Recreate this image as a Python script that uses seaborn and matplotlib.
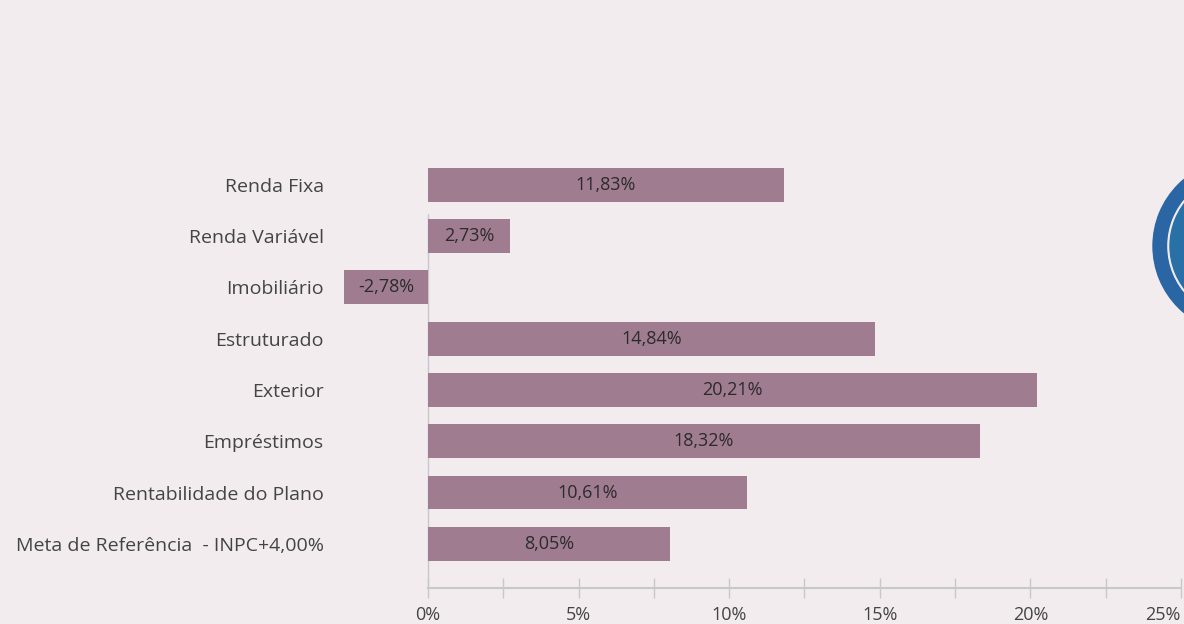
import numpy as np
import pandas as pd
import seaborn as sns
import matplotlib.pyplot as plt
from matplotlib.patches import Wedge

categories = ['Renda Fixa', 'Renda Variável', 'Imobiliário', 'Estruturado', 'Exterior',
              'Empréstimos', 'Rentabilidade do Plano', 'Meta de Referência  - INPC+4,00%']
values = [11.83, 2.73, -2.78, 14.84, 20.21, 18.32, 10.61, 8.05]
xticks = [0, 2.5, 5, 7.5, 10, 12.5, 15, 17.5, 20, 22.5, 25]

bg = '#f2ecef'
bar_color = '#a07c91'
grey = '#c8c8c8'

sns.set_theme(style='white')
plt.rcParams['font.family'] = ['Open Sans', 'DejaVu Sans']

df = pd.DataFrame({'cat': categories, 'val': values})

fig = plt.figure(figsize=(11.84, 6.24), dpi=100, facecolor=bg)
ax = fig.add_axes([0.2851, 0.0577, 0.7123, 0.6875])
ax.set_facecolor(bg)

sns.barplot(data=df, x='val', y='cat', color=bar_color, saturation=1, width=0.66,
            linewidth=0, edgecolor='none', ax=ax)

ax.set_xlim(-3, 25)
ax.set_ylim(7.86, -0.5)
ax.set_xlabel('')
ax.set_ylabel('')

# value labels inside bars
for p, v in zip(ax.patches, values):
    ax.text(p.get_x() + p.get_width() / 2, p.get_y() + p.get_height() / 2,
            f'{v:.2f}%'.replace('.', ','), ha='center', va='center',
            fontsize=13, color='#2b2b2b')

# zero line instead of a moved left spine, so the labels stay on the left
for s in ['top', 'right', 'left']:
    ax.spines[s].set_visible(False)
ax.axvline(0, ymin=0, ymax=(7.86 - 0.58) / 8.36, color=grey, lw=1, zorder=0)
ax.spines['bottom'].set_bounds(0, 25)
ax.spines['bottom'].set_color(grey)
ax.spines['bottom'].set_linewidth(1.5)

ax.set_xticks(xticks)
ax.set_xticklabels([f'{t:g}%' if t % 5 == 0 else '' for t in xticks],
                   fontsize=13, color='#444444')
ax.tick_params(axis='x', bottom=True, direction='inout', length=14, width=1,
               color=grey, pad=6)
ax.tick_params(axis='y', left=False, length=0, pad=10, labelsize=14, labelcolor='#444444')
# last label sits at the figure edge, so align it to the right
for lab in ax.get_xticklabels():
    if lab.get_text() == '25%':
        lab.set_ha('right')

# decorative logo arcs at the right edge
tr = fig.dpi_scale_trans
fig.add_artist(Wedge((12.40, 3.78), 0.87, 0, 360, width=0.135,
                     color='#2966a3', transform=tr))
fig.add_artist(Wedge((12.40, 3.78), 0.70, 0, 360, width=0.14,
                     color='#2970a6', transform=tr))

plt.savefig('out.png', dpi=100, facecolor=bg)
